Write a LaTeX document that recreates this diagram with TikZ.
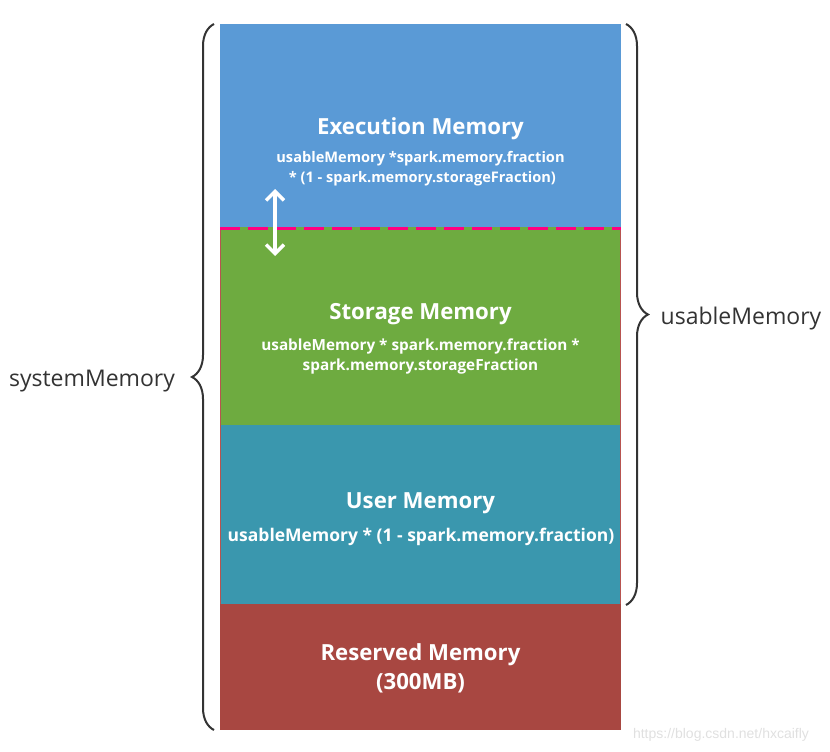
\documentclass[tikz,border=0pt]{standalone}
\usepackage{fontspec}
\setmainfont{Open Sans}
\newfontfamily\markfont{Liberation Sans}
\usetikzlibrary{decorations.pathreplacing,arrows.meta}

\definecolor{execblue}{HTML}{5A9AD6}
\definecolor{storegreen}{HTML}{6EAB40}
\definecolor{userteal}{HTML}{3A97AE}
\definecolor{reservred}{HTML}{A84741}
\definecolor{edgered}{HTML}{B85450}
\definecolor{splitpink}{HTML}{FF0080}
\definecolor{bracegray}{HTML}{333333}

\tikzset{
  memtitle/.style={text=white,font=\fontsize{22.2}{29}\selectfont\bfseries},
  memformula/.style={text=white,font=\fontsize{14.6}{20}\selectfont\bfseries,align=center},
  bracelabel/.style={text=bracegray,font=\fontsize{23}{26}\selectfont},
  membrace/.style={draw=bracegray,line width=2pt,decorate,decoration={brace,amplitude=22pt}}
}

\begin{document}
\begin{tikzpicture}[x=1pt,y=-1pt]
    \useasboundingbox (0,0) rectangle (830,752);
    \begin{scope}
	\fill[execblue] (220,24) rectangle (621,227);
	\node[memtitle] (exectitle) at (420.5,129) {Execution Memory};
	\node[memformula] (execformula) at (420.5,169) {usableMemory *spark.memory.fraction\\ \ * (1 - spark.memory.storageFraction)};
    \end{scope}
    \begin{scope}
	\fill[storegreen] (220,227) rectangle (621,425);
	\node[memtitle] (storetitle) at (420.5,314) {Storage Memory};
	\node[memformula,font=\fontsize{15.3}{20}\selectfont\bfseries] (storeformula) at (420.5,356) {usableMemory * spark.memory.fraction *\\spark.memory.storageFraction};
    \end{scope}
    \begin{scope}
	\fill[userteal] (220,425) rectangle (621,604);
	\node[memtitle] (usertitle) at (420.5,503) {User Memory};
	\node[memformula,font=\fontsize{17.5}{20}\selectfont\bfseries] (userformula) at (421,537) {usableMemory * (1 - spark.memory.fraction)};
    \end{scope}
    \begin{scope}
	\fill[reservred] (220,604) rectangle (621,730);
	\node[memtitle,align=center] (reservtitle) at (420.5,668) {Reserved Memory\\(300MB)};
    \end{scope}
    % thin edges and the movable split
    \draw[edgered,line width=1pt] (220.5,227) -- (220.5,604);
    \draw[edgered,line width=0.6pt] (620.5,227) -- (620.5,604);
    \draw[splitpink,line width=3.5pt,dash pattern=on 20pt off 8pt] (220,228.5) -- (621,228.5);
    \coordinate (splittop) at (275,189);
    \coordinate (splitbot) at (275,256);
    \draw[white,line width=3.5pt,{Straight Barb[length=9pt,width=18pt,line width=3.5pt]}-{Straight Barb[length=9pt,width=18pt,line width=3.5pt]}] (splittop) -- (splitbot);
    % braces
    \coordinate (sysbot) at (214,730);
    \coordinate (systop) at (214,24);
    \coordinate (usetop) at (626,24);
    \coordinate (usebot) at (626,605);
    \draw[membrace] (sysbot) -- (systop);
    \draw[membrace] (usetop) -- (usebot);
    \node[bracelabel] (syslabel) at (92,381) {systemMemory};
    \node[bracelabel] (uselabel) at (741,319) {usableMemory};
    \node[text=black!12,font=\markfont\fontsize{14}{16}\selectfont] (mark) at (721,735) {https://blog.csdn.net/hxcaifly};
\end{tikzpicture}
\end{document}
